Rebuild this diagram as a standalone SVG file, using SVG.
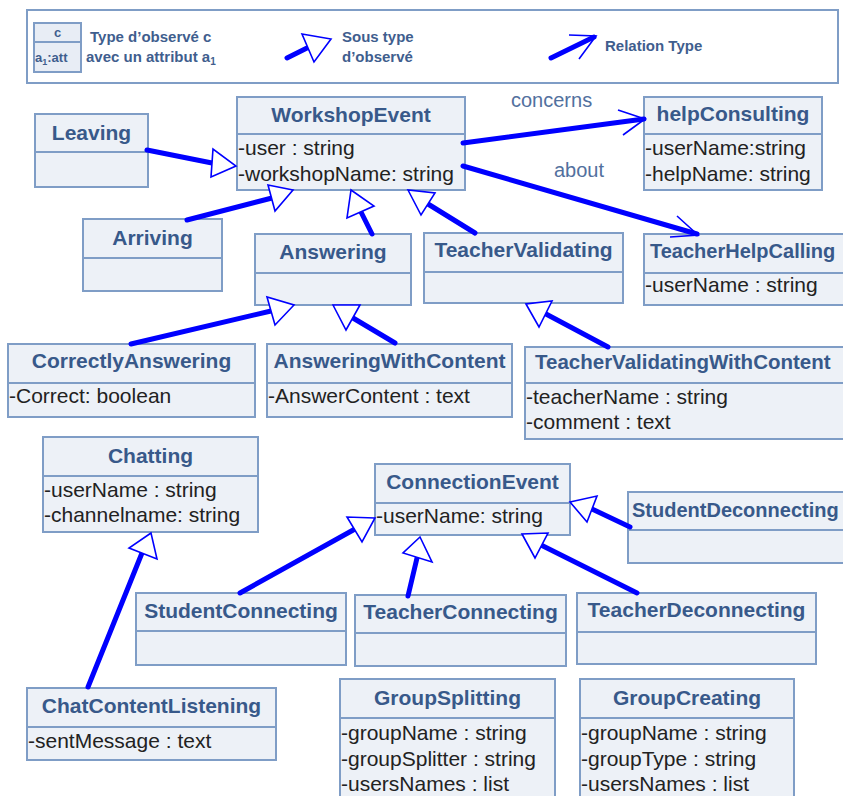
<svg xmlns="http://www.w3.org/2000/svg" width="843" height="796" viewBox="0 0 843 796">
  <style>
    .box { fill: #edf1f7; stroke: #7f9dc6; stroke-width: 2; }
    .div { stroke: #7f9dc6; stroke-width: 2; }
    .title { font-family: "Liberation Sans", Arial, sans-serif; font-size: 21px; font-weight: bold; fill: #38598a; text-anchor: middle; }
    .title-l { font-family: "Liberation Sans", Arial, sans-serif; font-size: 20px; font-weight: bold; fill: #38598a; }
    .attr { font-family: "Liberation Sans", Arial, sans-serif; font-size: 21px; fill: #222; }
    .legend { font-family: "Liberation Sans", Arial, sans-serif; font-size: 15px; font-weight: bold; fill: #3f5e8e; }
    .legend-s { font-family: "Liberation Sans", Arial, sans-serif; font-size: 13px; font-weight: bold; fill: #3f5e8e; }
    .rel-label { font-family: "Liberation Sans", Arial, sans-serif; font-size: 20px; fill: #52709e; }
    .edge { stroke: #0000ff; stroke-width: 5; stroke-linecap: round; fill: none; }
    .head { fill: #ffffff; stroke: #0000ff; stroke-width: 1.6; stroke-linejoin: miter; }
    .open { fill: none; stroke: #0000ff; stroke-width: 1.6; }
  </style>

  <rect width="843" height="796" fill="#ffffff"/>

  <!-- Legend -->
  <g id="legend">
    <rect x="27" y="10" width="811" height="73" fill="#ffffff" stroke="#7f9dc6" stroke-width="2"/>
    <rect x="34" y="23" width="47" height="49" fill="#e8edf5" stroke="#7f9dc6" stroke-width="2"/>
    <line x1="34" y1="42" x2="81" y2="42" class="div"/>
    <text x="57.5" y="37" class="legend-s" text-anchor="middle">c</text>
    <text x="35" y="62" class="legend-s">a<tspan font-size="9" dy="3">1</tspan><tspan dy="-3">:att</tspan></text>
    <text x="90" y="42" class="legend">Type d’observé c</text>
    <text x="86" y="62" class="legend">avec un attribut a<tspan font-size="10" dy="3">1</tspan></text>
    <line x1="287" y1="58" x2="307" y2="48" class="edge"/>
    <polygon points="302,34 331,39 314,62" class="head"/>
    <text x="342" y="42" class="legend">Sous type</text>
    <text x="342" y="62" class="legend">d’observé</text>
    <line x1="551" y1="58" x2="594" y2="37" class="edge"/>
    <polyline points="569,35 596,36 579,59" class="open"/>
    <text x="605" y="51" class="legend">Relation Type</text>
  </g>

  <!-- Classes -->
  <g id="Leaving">
    <rect x="35" y="114" width="113" height="73" class="box"/>
    <line x1="35" y1="152" x2="148" y2="152" class="div"/>
    <text x="91.5" y="140" class="title">Leaving</text>
  </g>

  <g id="WorkshopEvent">
    <rect x="237" y="97" width="228" height="93" class="box"/>
    <line x1="237" y1="134" x2="465" y2="134" class="div"/>
    <text x="351" y="122" class="title">WorkshopEvent</text>
    <text x="238" y="155" class="attr">-user : string</text>
    <text x="238" y="181" class="attr">-workshopName: string</text>
  </g>

  <g id="helpConsulting">
    <rect x="644" y="97" width="178" height="93" class="box"/>
    <line x1="644" y1="134" x2="822" y2="134" class="div"/>
    <text x="733" y="121" class="title">helpConsulting</text>
    <text x="645" y="155" class="attr">-userName:string</text>
    <text x="645" y="181" class="attr">-helpName: string</text>
  </g>

  <g id="Arriving">
    <rect x="83" y="219" width="139" height="72" class="box"/>
    <line x1="83" y1="258" x2="222" y2="258" class="div"/>
    <text x="152.5" y="245" class="title">Arriving</text>
  </g>

  <g id="Answering">
    <rect x="255" y="234" width="156" height="71" class="box"/>
    <line x1="255" y1="273" x2="411" y2="273" class="div"/>
    <text x="333" y="259" class="title">Answering</text>
  </g>

  <g id="TeacherValidating">
    <rect x="424" y="233" width="199" height="70" class="box"/>
    <line x1="424" y1="272" x2="623" y2="272" class="div"/>
    <text x="523.5" y="257" class="title">TeacherValidating</text>
  </g>

  <g id="TeacherHelpCalling">
    <rect x="644" y="234" width="210" height="71" class="box"/>
    <line x1="644" y1="273" x2="854" y2="273" class="div"/>
    <text x="650" y="258" class="title-l">TeacherHelpCalling</text>
    <text x="645" y="292" class="attr">-userName : string</text>
  </g>

  <g id="CorrectlyAnswering">
    <rect x="8" y="344" width="247" height="73" class="box"/>
    <line x1="8" y1="383" x2="255" y2="383" class="div"/>
    <text x="131.5" y="368" class="title">CorrectlyAnswering</text>
    <text x="9" y="403" class="attr">-Correct: boolean</text>
  </g>

  <g id="AnsweringWithContent">
    <rect x="267" y="344" width="245" height="73" class="box"/>
    <line x1="267" y1="383" x2="512" y2="383" class="div"/>
    <text x="389.5" y="368" class="title">AnsweringWithContent</text>
    <text x="268" y="403" class="attr">-AnswerContent : text</text>
  </g>

  <g id="TeacherValidatingWithContent">
    <rect x="525" y="347" width="330" height="92" class="box"/>
    <line x1="525" y1="383" x2="855" y2="383" class="div"/>
    <text x="535" y="369" class="title-l" style="font-size:20.5px">TeacherValidatingWithContent</text>
    <text x="526" y="404" class="attr">-teacherName : string</text>
    <text x="526" y="429" class="attr">-comment : text</text>
  </g>

  <g id="Chatting">
    <rect x="43" y="437" width="215" height="95" class="box"/>
    <line x1="43" y1="476" x2="258" y2="476" class="div"/>
    <text x="150.5" y="463" class="title">Chatting</text>
    <text x="44" y="497" class="attr">-userName : string</text>
    <text x="44" y="522" class="attr">-channelname: string</text>
  </g>

  <g id="ConnectionEvent">
    <rect x="375" y="464" width="195" height="71" class="box"/>
    <line x1="375" y1="503" x2="570" y2="503" class="div"/>
    <text x="472.5" y="489" class="title">ConnectionEvent</text>
    <text x="376" y="523" class="attr">-userName: string</text>
  </g>

  <g id="StudentDeconnecting">
    <rect x="628" y="492" width="230" height="71" class="box"/>
    <line x1="628" y1="530" x2="858" y2="530" class="div"/>
    <text x="632" y="517" class="title-l">StudentDeconnecting</text>
  </g>

  <g id="StudentConnecting">
    <rect x="136" y="593" width="210" height="72" class="box"/>
    <line x1="136" y1="631" x2="346" y2="631" class="div"/>
    <text x="241" y="618" class="title">StudentConnecting</text>
  </g>

  <g id="TeacherConnecting">
    <rect x="355" y="595" width="211" height="71" class="box"/>
    <line x1="355" y1="633" x2="566" y2="633" class="div"/>
    <text x="460.5" y="619" class="title">TeacherConnecting</text>
  </g>

  <g id="TeacherDeconnecting">
    <rect x="577" y="593" width="239" height="71" class="box"/>
    <line x1="577" y1="632" x2="816" y2="632" class="div"/>
    <text x="696.5" y="617" class="title">TeacherDeconnecting</text>
  </g>

  <g id="ChatContentListening">
    <rect x="27" y="688" width="249" height="72" class="box"/>
    <line x1="27" y1="727" x2="276" y2="727" class="div"/>
    <text x="151.5" y="713" class="title">ChatContentListening</text>
    <text x="28" y="748" class="attr">-sentMessage : text</text>
  </g>

  <g id="GroupSplitting">
    <rect x="340" y="679" width="215" height="130" class="box"/>
    <line x1="340" y1="718" x2="555" y2="718" class="div"/>
    <text x="447.5" y="705" class="title">GroupSplitting</text>
    <text x="341" y="740" class="attr">-groupName : string</text>
    <text x="341" y="766" class="attr">-groupSplitter : string</text>
    <text x="341" y="791" class="attr">-usersNames : list</text>
  </g>

  <g id="GroupCreating">
    <rect x="580" y="679" width="214" height="130" class="box"/>
    <line x1="580" y1="718" x2="794" y2="718" class="div"/>
    <text x="687" y="705" class="title">GroupCreating</text>
    <text x="581" y="740" class="attr">-groupName : string</text>
    <text x="581" y="766" class="attr">-groupType : string</text>
    <text x="581" y="791" class="attr">-usersNames : list</text>
  </g>

  <!-- Connectors -->
  <g id="connectors">
    <!-- generalisations to WorkshopEvent -->
    <line x1="147" y1="150" x2="212" y2="163" class="edge"/>
    <polygon points="213,149 211,177 236,166" class="head"/>
    <line x1="187" y1="220" x2="272" y2="198" class="edge"/>
    <polygon points="268,185 275,211 293,190" class="head"/>
    <line x1="372" y1="234" x2="361" y2="212" class="edge"/>
    <polygon points="351,190 347,218 374,206" class="head"/>
    <line x1="475" y1="233" x2="428" y2="204" class="edge"/>
    <polygon points="408,190 421,215 435,193" class="head"/>

    <!-- generalisations to Answering / TeacherValidating -->
    <line x1="131" y1="344" x2="271" y2="311" class="edge"/>
    <polygon points="267,297 275,325 294,305" class="head"/>
    <line x1="395" y1="343" x2="353" y2="318" class="edge"/>
    <polygon points="333,305 346,330 360,305" class="head"/>
    <line x1="608" y1="347" x2="546" y2="314" class="edge"/>
    <polygon points="526,304 539,327 552,301" class="head"/>

    <!-- generalisation to Chatting -->
    <line x1="88" y1="687" x2="142" y2="553" class="edge"/>
    <polygon points="151,533 129,548 157,559" class="head"/>

    <!-- generalisations to ConnectionEvent -->
    <line x1="240" y1="593" x2="355" y2="529" class="edge"/>
    <polygon points="375,518 347,517 362,542" class="head"/>
    <line x1="408" y1="596" x2="417" y2="558" class="edge"/>
    <polygon points="420,537 403,553 432,562" class="head"/>
    <line x1="637" y1="593" x2="541" y2="545" class="edge"/>
    <polygon points="522,534 535,558 548,533" class="head"/>
    <line x1="630" y1="527" x2="592" y2="509" class="edge"/>
    <polygon points="570,502 597,496 587,522" class="head"/>

    <!-- associations -->
    <line x1="463" y1="143" x2="644" y2="119" class="edge"/>
    <polyline points="618,110 645,119 623,135" class="open"/>
    <text x="511" y="107" class="rel-label">concerns</text>
    <line x1="463" y1="166" x2="697" y2="234" class="edge"/>
    <polyline points="677,216 698,235 670,237" class="open"/>
    <text x="554" y="177" class="rel-label">about</text>
  </g>
</svg>
